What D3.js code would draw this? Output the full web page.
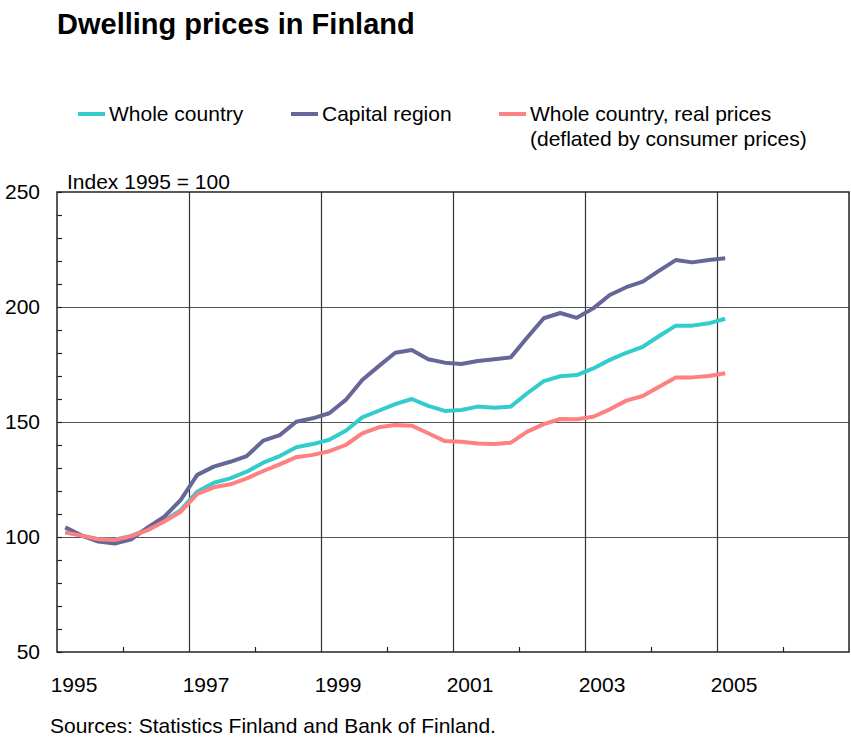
<!DOCTYPE html>
<html>
<head>
<meta charset="utf-8">
<script src="https://cdn.jsdelivr.net/npm/d3@7"></script>
<style>
  html, body { margin: 0; padding: 0; background: #fff; }
  svg { display: block; font-family: "Liberation Sans", Arial, sans-serif; }
</style>
</head>
<body>
<svg id="chart" width="851" height="738"></svg>
<script>
// Quarterly observations, 1995Q1 – 2005Q1 (index 1995 = 100)
const quarters = [
  "1995Q1","1995Q2","1995Q3","1995Q4","1996Q1","1996Q2","1996Q3","1996Q4",
  "1997Q1","1997Q2","1997Q3","1997Q4","1998Q1","1998Q2","1998Q3","1998Q4",
  "1999Q1","1999Q2","1999Q3","1999Q4","2000Q1","2000Q2","2000Q3","2000Q4",
  "2001Q1","2001Q2","2001Q3","2001Q4","2002Q1","2002Q2","2002Q3","2002Q4",
  "2003Q1","2003Q2","2003Q3","2003Q4","2004Q1","2004Q2","2004Q3","2004Q4",
  "2005Q1"
];
const wholeCountry = [
  102.0, 100.6, 99.0, 98.8, 100.5, 103.3, 107.1, 111.7,
  119.7, 123.6, 125.5, 128.4, 132.3, 135.2, 139.0, 140.4,
  142.3, 146.2, 152.0, 154.9, 157.8, 160.0, 157.0, 154.8,
  155.2, 156.7, 156.2, 156.7, 162.5, 167.8, 169.9, 170.4,
  173.3, 177.0, 180.1, 182.7, 187.4, 191.9, 191.9, 192.9,
  194.9
];
const capitalRegion = [
  104.2, 100.6, 98.0, 97.2, 99.0, 104.2, 108.8, 116.1,
  127.0, 130.6, 132.7, 135.2, 141.9, 144.3, 150.1, 151.6,
  153.8, 159.6, 168.3, 174.3, 180.1, 181.3, 177.3, 175.8,
  175.2, 176.5, 177.3, 178.1, 186.7, 195.1, 197.4, 195.3,
  199.4, 205.2, 208.6, 211.0, 215.8, 220.4, 219.4, 220.4,
  221.2
];
const realPrices = [
  102.0, 100.6, 99.0, 98.7, 100.4, 103.0, 106.7, 111.0,
  118.7, 121.6, 122.9, 125.5, 128.7, 131.6, 134.7, 135.7,
  137.3, 140.0, 145.1, 147.7, 148.7, 148.4, 145.1, 141.7,
  141.4, 140.7, 140.4, 141.0, 145.8, 149.1, 151.3, 151.2,
  152.3, 155.5, 159.3, 161.3, 165.3, 169.3, 169.4, 170.0,
  171.2
];

const seriesNames = ["Whole country", "Capital region", "Whole country, real prices"];
const seriesColors = ["#33CCCC", "#666699", "#FF8080"];
const yTickLabels = [50, 100, 150, 200, 250];
const xTickLabels = [1995, 1997, 1999, 2001, 2003, 2005];

const svg = d3.select("#chart");
const plotLeft = 57, plotRight = 849, plotTop = 192, plotBottom = 652;
const fs = 21;

// quarter "YYYYQn" -> mid-quarter decimal year
const qTime = q => +q.slice(0, 4) + (+q.slice(5) - 1) / 4 + 0.125;

const x = d3.scaleLinear().domain([1995, 2007]).range([plotLeft, plotRight]);
const y = d3.scaleLinear().domain([50, 250]).range([plotBottom, plotTop]);

// Title
svg.append("text")
  .attr("x", 57).attr("y", 34)
  .attr("font-size", 29).attr("font-weight", "bold")
  .text("Dwelling prices in Finland");

// Legend
const legendItems = [
  { lx: 78, tx: 109, lines: [seriesNames[0]] },
  { lx: 291, tx: 322, lines: [seriesNames[1]] },
  { lx: 499, tx: 530, lines: [seriesNames[2], "(deflated by consumer prices)"] }
];
legendItems.forEach((it, i) => {
  svg.append("line")
    .attr("x1", it.lx).attr("x2", it.lx + 27)
    .attr("y1", 114).attr("y2", 114)
    .attr("stroke", seriesColors[i]).attr("stroke-width", 4);
  const t = svg.append("text").attr("x", it.tx).attr("y", 121).attr("font-size", fs);
  it.lines.forEach((s, j) => {
    t.append("tspan").attr("x", it.tx).attr("dy", j === 0 ? 0 : 24.5).text(s);
  });
});

// Unit label
svg.append("text")
  .attr("x", 67).attr("y", 189)
  .attr("font-size", fs)
  .text("Index 1995 = 100");

// Horizontal gridlines
svg.append("g").selectAll("line")
  .data(yTickLabels.filter(v => v > 50 && v < 250))
  .join("line")
  .attr("x1", plotLeft).attr("x2", plotRight)
  .attr("y1", d => Math.round(y(d)) + 0.5).attr("y2", d => Math.round(y(d)) + 0.5)
  .attr("stroke", "#555").attr("stroke-width", 1.2);

// Vertical gridlines at labelled years
svg.append("g").selectAll("line")
  .data(xTickLabels.filter(v => v > 1995))
  .join("line")
  .attr("x1", d => Math.round(x(d)) + 0.5).attr("x2", d => Math.round(x(d)) + 0.5)
  .attr("y1", plotTop).attr("y2", plotBottom)
  .attr("stroke", "#333").attr("stroke-width", 1.2);

// Left axis: minor ticks pointing inward, labels outside
const yAxis = d3.axisRight(y)
  .tickValues(d3.range(50, 251, 10))
  .tickSize(5)
  .tickFormat("");
svg.append("g")
  .attr("transform", `translate(${plotLeft},0)`)
  .call(yAxis)
  .call(g => g.select(".domain").remove())
  .call(g => g.selectAll(".tick line").attr("stroke", "#222").attr("stroke-width", 1.2));

svg.append("g").selectAll("text")
  .data(yTickLabels)
  .join("text")
  .attr("x", 40).attr("y", d => y(d) + 7)
  .attr("text-anchor", "end")
  .attr("font-size", fs)
  .text(d => d);

// Bottom axis: minor ticks at even years pointing up, labels below
const xAxis = d3.axisTop(x)
  .tickValues(d3.range(1996, 2007, 2))
  .tickSize(5)
  .tickFormat("");
svg.append("g")
  .attr("transform", `translate(0,${plotBottom})`)
  .call(xAxis)
  .call(g => g.select(".domain").remove())
  .call(g => g.selectAll(".tick line").attr("stroke", "#222").attr("stroke-width", 1.2));

svg.append("g").selectAll("text")
  .data(xTickLabels)
  .join("text")
  .attr("x", d => x(d) + 17).attr("y", 692)
  .attr("text-anchor", "middle")
  .attr("font-size", fs)
  .text(d => d);

// Plot frame
svg.append("rect")
  .attr("x", plotLeft).attr("y", plotTop)
  .attr("width", plotRight - plotLeft).attr("height", plotBottom - plotTop)
  .attr("fill", "none").attr("stroke", "#222").attr("stroke-width", 1.5);

// Series lines
const series = [wholeCountry, capitalRegion, realPrices];
const line = d3.line()
  .x((d, i) => x(qTime(quarters[i])))
  .y(d => y(d));
series.forEach((vals, i) => {
  svg.append("path")
    .datum(vals)
    .attr("d", line)
    .attr("fill", "none")
    .attr("stroke", seriesColors[i])
    .attr("stroke-width", 4)
    .attr("stroke-linejoin", "round");
});

// Source note
svg.append("text")
  .attr("x", 50).attr("y", 733)
  .attr("font-size", fs)
  .text("Sources: Statistics Finland and Bank of Finland.");
</script>
</body>
</html>
